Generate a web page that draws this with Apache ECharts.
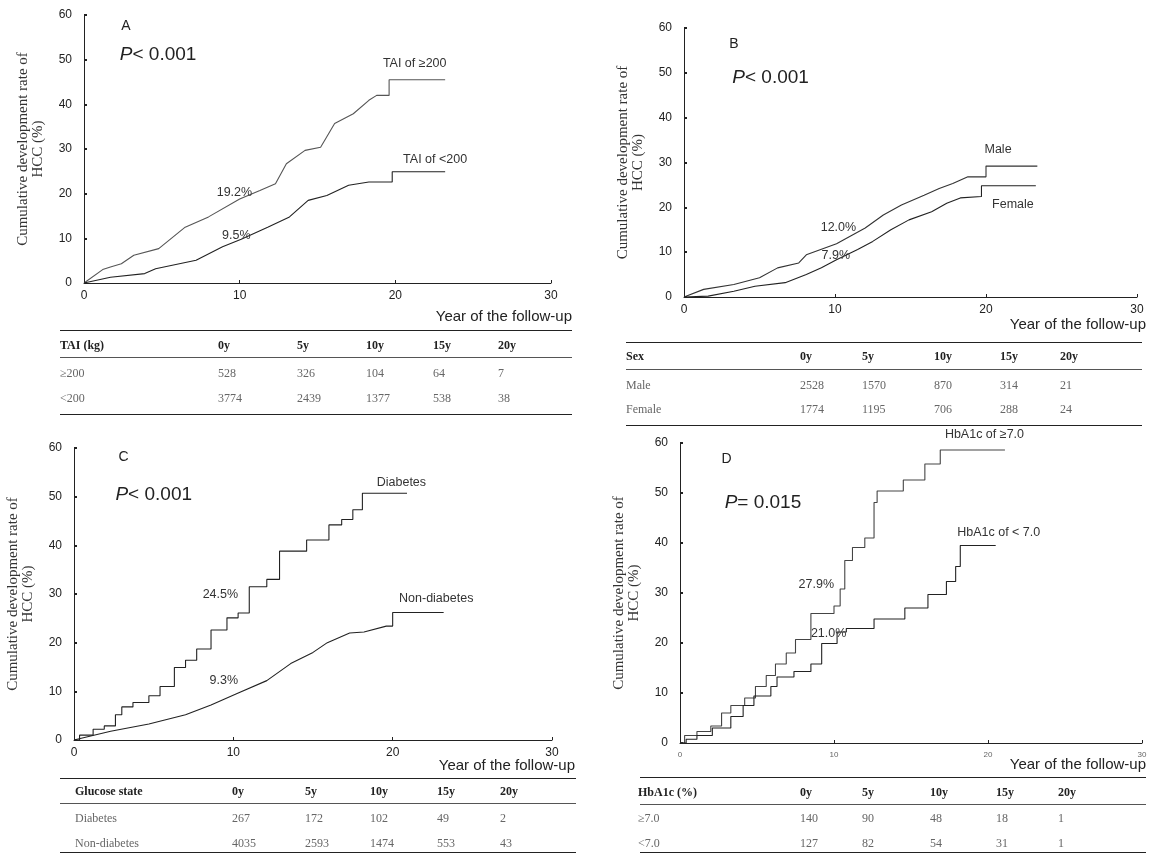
<!DOCTYPE html>
<html>
<head>
<meta charset="utf-8">
<script src="https://cdn.jsdelivr.net/npm/echarts@6/dist/echarts.min.js"></script>
<style>
html, body { margin: 0; padding: 0; background: #fff; }
#wrap { position: relative; width: 1151px; height: 854px; overflow: hidden; }
#chart { position: absolute; left: 0; top: 0; width: 1151px; height: 854px; }
.tline { position: absolute; height: 0; border-top: 1.5px solid #222; }
.tline.thin { border-top-width: 1px; border-top-color: #555; }
.tcell {
  position: absolute;
  font-family: 'Liberation Serif', 'DejaVu Serif', serif;
  font-size: 12px;
  line-height: 14px;
  color: #666;
  white-space: nowrap;
  transform: translateY(-50%);
}
.tcell.head { color: #222; font-weight: bold; }
</style>
</head>
<body>
<div id="wrap">
  <div id="chart"></div>
</div>
<script>
// ---- data (years, cumulative %) ----
const taiHigh = [[0,0],[1.2,3.0],[1.7,3.6],[2.4,4.3],[3.2,6.2],[4.8,7.7],[6.5,12.5],[8.0,14.8],[10.0,18.8],[11.3,20.7],[12.3,22.2],[13.0,26.7],[14.2,29.7],[15.2,30.4],[16.1,35.7],[17.3,37.9],[18.3,40.9],[18.8,42.0],[19.6,42.0],[19.6,45.5],[23.2,45.5]]
const taiLow = [[0,0],[1.7,1.3],[3.9,2.1],[4.6,3.2],[7.2,5.1],[8.9,8.1],[10.1,9.8],[11.8,12.5],[13.2,14.8],[14.4,18.5],[15.6,19.6],[17.0,21.9],[18.3,22.6],[19.8,22.6],[19.8,24.9],[23.2,24.9]]

const male = [[0,0],[1.3,1.7],[3.3,2.8],[5.0,4.3],[6.2,6.5],[7.6,7.6],[8.1,9.4],[10.1,11.9],[12.0,15.4],[13.2,18.3],[14.4,20.5],[15.9,22.7],[16.9,24.2],[17.8,25.3],[18.8,26.8],[20.0,26.8],[20.0,29.2],[23.4,29.2]]
const female = [[0,0],[1.6,0.2],[3.3,1.3],[4.7,2.4],[6.7,3.2],[8.1,5.0],[9.1,6.5],[10.1,8.3],[11.5,10.6],[12.5,12.4],[13.7,15.0],[14.9,17.2],[16.4,19.0],[17.4,20.9],[18.3,22.1],[19.7,22.4],[19.7,24.8],[23.3,24.8]]

const diabetes = [[0,0],[0.35,1.0],[1.2,2.2],[1.9,2.9],[2.6,5.2],[3.0,6.8],[3.7,7.7],[4.7,9.1],[5.4,11.0],[6.3,14.9],[7.0,16.4],[7.7,18.7],[8.6,22.6],[9.6,25.1],[10.3,26.1],[11.0,31.5],[12.1,33.0],[12.9,38.8],[14.6,41.1],[16.0,44.2],[16.8,45.3],[17.5,47.3],[18.1,50.7],[20.9,50.7]]
const nonDiabetes = [[0,0],[2.3,1.8],[4.7,3.3],[7.0,5.2],[8.6,7.2],[10.2,9.5],[12.1,12.2],[13.6,15.7],[15.0,18.0],[15.9,20.0],[17.3,22.0],[18.2,22.2],[19.6,23.4],[20.0,23.4],[20.0,26.2],[23.2,26.2]]

const hbaHigh = [[0,0],[0.3,1.5],[1.1,2.3],[2.0,3.4],[2.7,6.0],[3.3,7.5],[4.2,9.0],[4.9,11.3],[5.6,13.5],[6.2,15.8],[6.9,18.0],[7.5,20.7],[8.5,25.9],[10.0,27.4],[10.4,30.8],[10.7,36.5],[11.2,39.1],[12.0,41.0],[12.6,48.1],[12.8,50.4],[14.5,52.6],[15.9,55.8],[16.9,58.6],[21.1,58.6]]
const hbaLow = [[0,0],[0.4,0.75],[1.1,1.5],[2.1,3.0],[3.3,5.3],[4.1,7.5],[4.8,9.4],[5.9,11.3],[6.3,13.2],[7.4,14.3],[8.5,15.8],[9.2,19.9],[10.2,22.2],[10.8,22.9],[12.6,24.8],[14.6,27.0],[16.1,29.7],[17.3,32.3],[17.9,35.3],[18.2,39.5],[20.5,39.5]]

const yTicks = [0, 10, 20, 30, 40, 50, 60]
const xTicks = [0, 10, 20, 30]

// numbers at risk
const atRiskYears = ['0y', '5y', '10y', '15y', '20y']
const taiGroups = ['\u2265200', '<200']
const taiCounts = [[528, 326, 104, 64, 7], [3774, 2439, 1377, 538, 38]]
const sexGroups = ['Male', 'Female']
const sexCounts = [[2528, 1570, 870, 314, 21], [1774, 1195, 706, 288, 24]]
const glucoseGroups = ['Diabetes', 'Non-diabetes']
const glucoseCounts = [[267, 172, 102, 49, 2], [4035, 2593, 1474, 553, 43]]
const hbaGroups = ['\u22657.0', '<7.0']
const hbaCounts = [[140, 90, 48, 18, 1], [127, 82, 54, 31, 1]]

// ---- layout ----
const SANS = "'Liberation Sans', Arial, sans-serif"
const SERIF = "'Liberation Serif', 'Times New Roman', serif"

const panels = [
  {
    grid: { left: 84, top: 15, width: 467, height: 268 },
    letter: 'A', pText: ['<', '0.001'], letterAt: [2.4, 57.5], pAt: [2.3, 51],
    curves: [
      { data: taiHigh, step: false, color: '#555' },
      { data: taiLow, step: false, color: '#222' },
    ],
    notes: [
      { at: [19.2, 49.2], text: 'TAI of \u2265200', align: 'left' },
      { at: [20.5, 27.6], text: 'TAI of <200', align: 'left' },
      { at: [10.8, 20.2], text: '19.2%', align: 'right' },
      { at: [10.7, 10.7], text: '9.5%', align: 'right' },
    ],
    yearCaption: { right: 572, y: 318 },
    table: { head: 'TAI (kg)', groups: taiGroups, counts: taiCounts,
      x0: 60, x1: 572, cols: [60, 218, 297, 366, 433, 498],
      lines: [330, 357, 414], rows: [345, 373, 398] },
  },
  {
    grid: { left: 684, top: 28, width: 453, height: 269 },
    letter: 'B', pText: ['<', '0.001'], letterAt: [3.0, 56.5], pAt: [3.2, 49],
    curves: [
      { data: male, step: false, color: '#333' },
      { data: female, step: false, color: '#222' },
    ],
    notes: [
      { at: [19.9, 33.0], text: 'Male', align: 'left' },
      { at: [20.4, 20.7], text: 'Female', align: 'left' },
      { at: [11.4, 15.6], text: '12.0%', align: 'right' },
      { at: [11.0, 9.3], text: '7.9%', align: 'right' },
    ],
    yearCaption: { right: 1146, y: 326 },
    table: { head: 'Sex', groups: sexGroups, counts: sexCounts,
      x0: 626, x1: 1142, cols: [626, 800, 862, 934, 1000, 1060],
      lines: [342, 369, 425], rows: [356, 385, 409] },
  },
  {
    grid: { left: 74, top: 448, width: 478, height: 292 },
    letter: 'C', pText: ['<', '0.001'], letterAt: [2.8, 58.2], pAt: [2.6, 50.3],
    curves: [
      { data: diabetes, step: 'end', color: '#222' },
      { data: nonDiabetes, step: false, color: '#222' },
    ],
    notes: [
      { at: [19.0, 53.0], text: 'Diabetes', align: 'left' },
      { at: [20.4, 29.1], text: 'Non-diabetes', align: 'left' },
      { at: [10.3, 29.9], text: '24.5%', align: 'right' },
      { at: [10.3, 12.2], text: '9.3%', align: 'right' },
    ],
    yearCaption: { right: 575, y: 767 },
    table: { head: 'Glucose state', groups: glucoseGroups, counts: glucoseCounts,
      x0: 60, x1: 576, cols: [75, 232, 305, 370, 437, 500],
      lines: [778, 803, 852], rows: [791, 818, 843] },
  },
  {
    grid: { left: 680, top: 443, width: 462, height: 300 },
    letter: 'D', pText: ['=', '0.015'], letterAt: [2.7, 56.8], pAt: [2.9, 48.1],
    curves: [
      { data: hbaHigh, step: 'end', color: '#444' },
      { data: hbaLow, step: 'end', color: '#222' },
    ],
    notes: [
      { at: [17.2, 60], dy: -8, text: 'HbA1c of \u22657.0', align: 'left' },
      { at: [18.0, 42.0], text: 'HbA1c of < 7.0', align: 'left' },
      { at: [10.0, 31.6], text: '27.9%', align: 'right' },
      { at: [10.8, 21.8], text: '21.0%', align: 'right' },
    ],
    yearCaption: { right: 1146, y: 766 },
    smallX: true,
    table: { head: 'HbA1c (%)', groups: hbaGroups, counts: hbaCounts,
      x0: 640, x1: 1146, cols: [638, 800, 862, 930, 996, 1058],
      lines: [777, 804, 852], rows: [792, 818, 843] },
  },
]

const grids = []
const xAxes = []
const yAxes = []
const series = []
const graphics = []

panels.forEach((p, i) => {
  grids.push(Object.assign({ containLabel: false }, p.grid))

  xAxes.push({
    gridIndex: i,
    type: 'value',
    min: xTicks[0],
    max: xTicks[xTicks.length - 1],
    interval: 10,
    axisLine: { lineStyle: { color: '#222', width: 1 } },
    axisTick: { show: true, inside: true, length: 3, lineStyle: { color: '#222' } },
    axisLabel: {
      color: p.smallX ? '#666' : '#222',
      fontFamily: SANS,
      fontSize: p.smallX ? 8 : 12,
      margin: p.smallX ? 8 : 7,
    },
    splitLine: { show: false },
  })

  yAxes.push({
    gridIndex: i,
    type: 'value',
    min: yTicks[0],
    max: yTicks[yTicks.length - 1],
    interval: 10,
    name: 'Cumulative development rate of\nHCC (%)',
    nameLocation: 'middle',
    nameRotate: 90,
    nameGap: 38,
    nameTextStyle: { fontFamily: SERIF, fontSize: 15, color: '#333', lineHeight: 15 },
    axisLine: { show: true, lineStyle: { color: '#222', width: 1 } },
    axisTick: { show: true, inside: true, length: 3, lineStyle: { color: '#222', width: 2 } },
    axisLabel: { color: '#222', fontFamily: SANS, fontSize: 12, margin: 12 },
    splitLine: { show: false },
  })

  const markData = [
    {
      coord: p.letterAt,
      value: p.letter,
      label: { formatter: p.letter, fontSize: 14, fontFamily: SANS, color: '#222', align: 'left' },
    },
    {
      coord: p.pAt,
      value: 0,
      label: {
        formatter: '{p|P}{t|' + p.pText[0] + ' ' + p.pText[1] + '}',
        align: 'left',
        rich: {
          p: { fontStyle: 'italic', fontFamily: SANS, fontSize: 19, color: '#222' },
          t: { fontFamily: SANS, fontSize: 19, color: '#222' },
        },
      },
    },
  ].concat(p.notes.map(n => ({
    coord: n.at,
    value: 0,
    label: {
      formatter: n.text, align: n.align, offset: [0, n.dy || 0],
      fontFamily: SANS, fontSize: 12.5, color: '#333',
    },
  })))

  p.curves.forEach((c, k) => {
    const s = {
      type: 'line',
      xAxisIndex: i,
      yAxisIndex: i,
      data: c.data,
      step: c.step,
      showSymbol: false,
      symbol: 'none',
      silent: true,
      animation: false,
      lineStyle: { color: c.color, width: 1.1 },
    }
    if (k === 0) {
      s.markPoint = {
        symbol: 'circle',
        symbolSize: 0,
        animation: false,
        label: { show: true, position: [0, 0], verticalAlign: 'middle' },
        data: markData,
      }
    }
    series.push(s)
  })

  graphics.push({
    type: 'text',
    right: 1151 - p.yearCaption.right,
    top: p.yearCaption.y - 9,
    style: { text: 'Year of the follow-up', font: '15px ' + SANS, fill: '#222' },
  })
})

const chart = echarts.init(document.getElementById('chart'), null, { renderer: 'canvas' })
chart.setOption({
  animation: false,
  backgroundColor: '#fff',
  grid: grids,
  xAxis: xAxes,
  yAxis: yAxes,
  series: series,
  graphic: graphics,
})

// ---- number-at-risk tables ----
const wrap = document.getElementById('wrap')

function addLine(x0, x1, y, thin) {
  const d = document.createElement('div')
  d.className = 'tline' + (thin ? ' thin' : '')
  d.style.left = x0 + 'px'
  d.style.top = y + 'px'
  d.style.width = (x1 - x0) + 'px'
  wrap.appendChild(d)
}

function addCell(x, y, text, head) {
  const d = document.createElement('div')
  d.className = 'tcell' + (head ? ' head' : '')
  d.style.left = x + 'px'
  d.style.top = y + 'px'
  d.textContent = text
  wrap.appendChild(d)
}

panels.forEach(p => {
  const t = p.table
  addLine(t.x0, t.x1, t.lines[0], false)
  addLine(t.x0, t.x1, t.lines[1], true)
  addLine(t.x0, t.x1, t.lines[2], false)
  addCell(t.cols[0], t.rows[0], t.head, true)
  atRiskYears.forEach((y, j) => addCell(t.cols[j + 1], t.rows[0], y, true))
  t.groups.forEach((g, r) => {
    addCell(t.cols[0], t.rows[r + 1], g, false)
    t.counts[r].forEach((v, j) => addCell(t.cols[j + 1], t.rows[r + 1], String(v), false))
  })
})
</script>
</body>
</html>
